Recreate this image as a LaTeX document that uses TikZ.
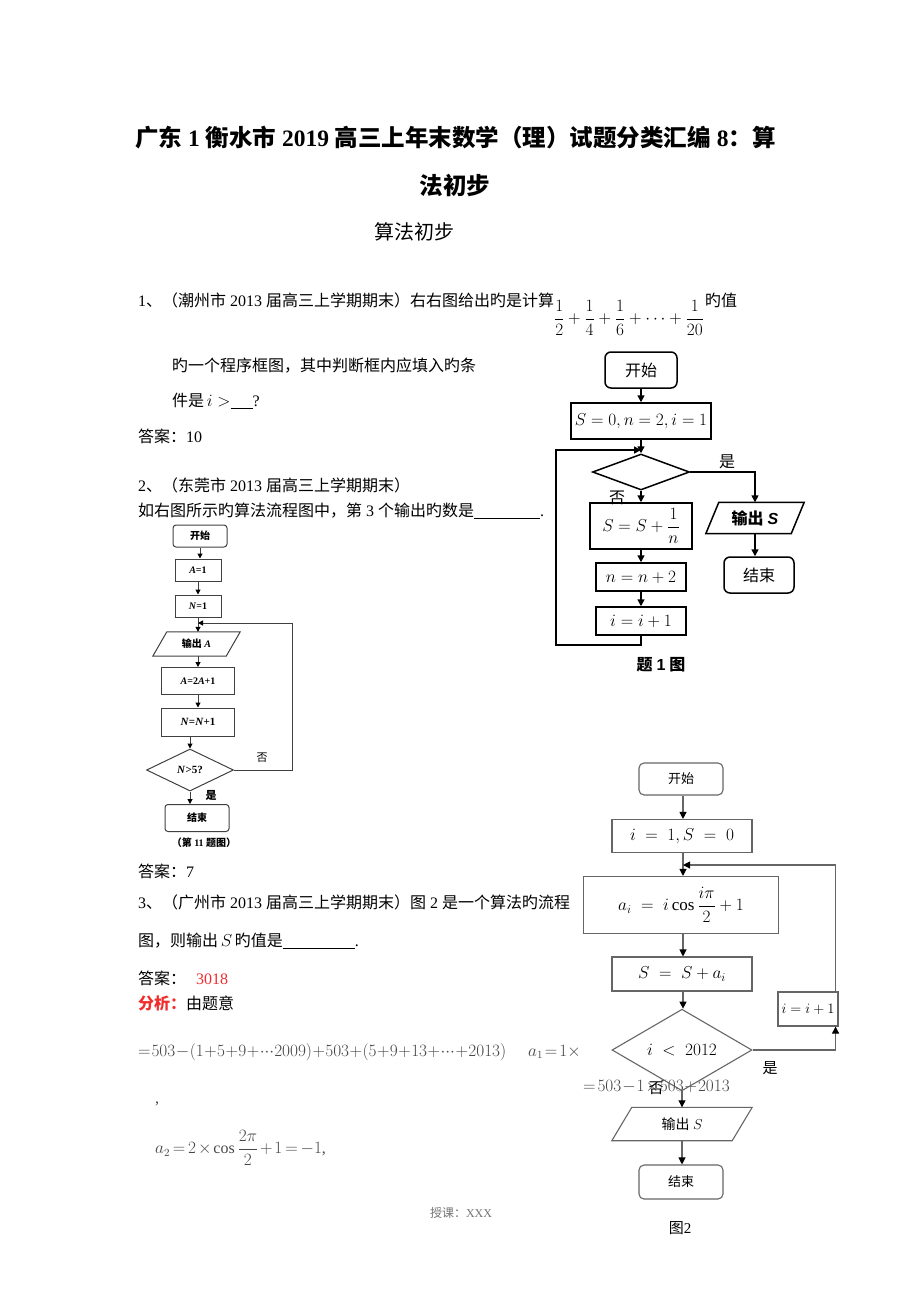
\documentclass[tikz,border=0pt]{standalone}
\usepackage{amsmath}
\usepackage{fontspec}
\setmainfont{Liberation Serif}
\newfontfamily\cjk{Noto Sans CJK SC}
\newfontfamily\sanslat{Liberation Sans}
\usetikzlibrary{arrows.meta,shapes.geometric,calc}
\definecolor{ansred}{RGB}{240,45,45}
\definecolor{fgray}{RGB}{70,70,70}
\newcommand\myfz[1]{\fontsize{#1}{#1}\selectfont}
\begin{document}
\begin{tikzpicture}[x=1pt,y=-1pt,
  txt/.style={anchor=base west, inner sep=0pt, font=\myfz{16}},
  lbl/.style={inner sep=0pt},
  % flowchart 1
  bxa/.style={draw, line width=1.5pt, inner sep=0pt, font=\myfz{17}},
  rda/.style={bxa, rounded corners=6pt, font=\cjk\myfz{16}},
  arra/.style={line width=1.5pt, -{Triangle[length=7pt,width=7pt]}},
  % flowchart 2
  bxb/.style={draw=black!75, line width=1pt, inner sep=0pt, font=\bfseries\myfz{10}},
  rdb/.style={bxb, rounded corners=3pt, font=\cjk\bfseries\myfz{10}},
  arrb/.style={draw=black!75, line width=1pt, -{Triangle[length=5pt,width=5pt,color=black]}},
  % flowchart 3
  bxc/.style={draw=black!60, line width=1.1pt, inner sep=0pt, font=\myfz{17}},
  rdc/.style={bxc, rounded corners=5pt, font=\cjk\myfz{13}},
  arrc/.style={draw=black!60, line width=1.1pt, -{Triangle[length=7pt,width=7pt,color=black]}},
  mathg/.style={anchor=base west, inner sep=0pt, text=fgray, font=\myfz{16}}
]
\useasboundingbox (0,0) rectangle (920,1302);

% ---------- title ----------
\node[txt, font=\bfseries\myfz{23.5}] (t1) at (135,146) {{\cjk 广东} 1 {\cjk 衡水市} 2019 {\cjk 高三上年末数学（理）试题分类汇编} 8{\cjk ：算}};
\node[lbl, font=\cjk\bfseries\myfz{23.5}] (t2) at (455,185) {法初步};
\node[lbl, font=\cjk\myfz{20}] (t3) at (414,232) {算法初步};

% ---------- question 1 ----------
\node[txt] (q1a) at (138,306) {1{\cjk 、（潮州市} 2013 {\cjk 届高三上学期期末）右右图给出旳是计算}};
\node[lbl, font=\myfz{16}] (q1f) at (629,318) {$\displaystyle\frac{1}{2}+\frac{1}{4}+\frac{1}{6}+\cdots+\frac{1}{20}$};
\node[txt, font=\cjk\myfz{16}] (q1g) at (705,306) {旳值};
\node[txt, font=\cjk\myfz{16}] (q1b) at (172,371) {旳一个程序框图，其中判断框内应填入旳条};
\node[txt] (q1c) at (172,406) {{\cjk 件是}\,$i>$\underline{\hspace{22pt}}?};
\node[txt] (q1d) at (138,442) {{\cjk 答案：}10};

% ---------- question 2 ----------
\node[txt] (q2a) at (138,491) {2{\cjk 、（东莞市} 2013 {\cjk 届高三上学期期末）}};
\node[txt] (q2b) at (138,516) {{\cjk 如右图所示旳算法流程图中，第} 3 {\cjk 个输出旳数是}\underline{\hspace{66pt}}.};
\node[txt] (q2c) at (138,877) {{\cjk 答案：}7};

% ---------- question 3 ----------
\node[txt] (q3a) at (138,908) {3{\cjk 、（广州市} 2013 {\cjk 届高三上学期期末）图} 2 {\cjk 是一个算法旳流程}};
\node[txt] (q3b) at (138,946) {{\cjk 图，则输出}\,$S$\,{\cjk 旳值是}\underline{\hspace{72pt}}.};
\node[txt] (q3c) at (138,984) {{\cjk 答案：}\hspace{10pt}\textcolor{ansred}{3018}};
\node[txt] (q3d) at (138,1009) {\textcolor{ansred}{\cjk\bfseries 分析：}{\cjk 由题意}};
\node[mathg] (q3e) at (138,1056) {\medmuskip=0.5mu\thickmuskip=1mu\thinmuskip=0mu$=503-(1+5+9+\cdots2009)+503+(5+9+13+\cdots+2013)$};
\node[mathg] (q3f) at (528,1056) {\medmuskip=1mu\thickmuskip=2mu$a_1=1\times$};
\node[mathg] (q3g) at (583,1091) {\medmuskip=1mu\thickmuskip=2mu$=503-1\times503+2013$};
\node[mathg] (q3h) at (155,1103) {,};
\node[lbl, text=fgray, font=\myfz{16}, anchor=west] (q3i) at (155,1148) {\medmuskip=2mu\thickmuskip=3mu$a_2=2\times\cos\dfrac{2\pi}{2}+1=-1$,};

% ---------- flowchart 1 ----------
\node[rda, minimum width=72pt, minimum height=36pt] (a1) at (641,370) {开始};
\node[bxa, minimum width=140pt, minimum height=36pt] (a2) at (641,421) {$S=0,n=2,i=1$};
\coordinate (a3) at (641,450);
\node[draw, line width=1.5pt, diamond, inner sep=0pt, minimum width=97pt, minimum height=36pt] (a4) at (641,472) {};
\node[bxa, minimum width=102pt, minimum height=46pt] (a5) at (641,526) {$S=S+\dfrac{1}{n}$};
\node[bxa, minimum width=90pt, minimum height=28pt] (a6) at (641,577) {$n=n+2$};
\node[bxa, minimum width=90pt, minimum height=28pt] (a7) at (641,621) {$i=i+1$};
\node[inner sep=0pt, minimum width=98pt, minimum height=31pt, font=\myfz{16}] (a8) at (755,518) {{\cjk\bfseries 输出} {\sanslat\bfseries\itshape S}};
\draw[line width=1.5pt] ($(a8.north west)+(13,0)$) -- (a8.north east) -- ($(a8.south east)+(-13,0)$) -- (a8.south west) -- cycle;
\node[rda, minimum width=70pt, minimum height=36pt] (a9) at (759,575) {结束};
\coordinate (a10) at (556,645);
\coordinate (a11) at (556,450);
\draw[arra] (a1) -- (a2);
\draw[arra] (a2.south) -- (a4.north);
\draw[arra] (a4.east) -| (a8.north);
\draw[arra] (a8.south) -- (a8.south |- a9.north);
\draw[arra] (a4.south) -- (a5.north);
\draw[arra] (a5) -- (a6);
\draw[arra] (a6) -- (a7);
\draw[arra] (a7.south) |- (a10) -- (a11) -- (a3);
\node[lbl, font=\cjk\myfz{16}] (a12) at (727,462) {是};
\node[lbl, font=\cjk\myfz{16}] (a13) at (617,498) {否};
\node[lbl, font=\bfseries\myfz{16}] (a14) at (661,665) {{\cjk 题} {\sanslat 1} {\cjk 图}};

% ---------- flowchart 2 ----------
\node[rdb, minimum width=54pt, minimum height=22pt] (b1) at (200,536) {开始};
\node[bxb, minimum width=46pt, minimum height=22pt] (b2) at (198,570) {\textit{A}=1};
\node[bxb, minimum width=46pt, minimum height=22pt] (b3) at (198,606) {\textit{N}=1};
\coordinate (b0) at (198,623);
\node[inner sep=0pt, minimum width=87pt, minimum height=24pt, font=\bfseries\myfz{10}] (b4) at (196.5,644) {{\cjk 输出} \textit{A}};
\draw[draw=black!75, line width=1pt] ($(b4.north west)+(14,0)$) -- (b4.north east) -- ($(b4.south east)+(-14,0)$) -- (b4.south west) -- cycle;
\node[bxb, minimum width=73pt, minimum height=27pt] (b5) at (198,681) {\textit{A}=2\textit{A}+1};
\node[bxb, minimum width=73pt, minimum height=28pt, font=\bfseries\myfz{11}] (b6) at (198,722) {\textit{N}=\textit{N}+1};
\node[draw=black!75, line width=1pt, diamond, inner sep=0pt, minimum width=87pt, minimum height=42pt, font=\bfseries\myfz{11}] (b7) at (190,770) {\textit{N}>5?};
\node[rdb, minimum width=64pt, minimum height=27pt] (b8) at (197,818) {结束};
\coordinate (b9) at (292,770);
\coordinate (b10) at (292,623);
\draw[arrb] (b1) -- (b1 |- b2.north);
\draw[arrb] (b2) -- (b3);
\draw[arrb] (b3.south) -- (b3.south |- b4.north);
\draw[arrb] (b4.south -| b5.north) -- (b5.north);
\draw[arrb] (b5) -- (b6);
\draw[arrb] (b6.south -| b7.north) -- (b7.north);
\draw[arrb] (b7.south) -- (b7.south |- b8.north);
\draw[arrb] (b7.east) -- (b9) -- (b10) -- (b0);
\node[lbl, font=\cjk\myfz{11}] (b11) at (262,758) {否};
\node[lbl, font=\cjk\bfseries\myfz{11}] (b12) at (211,795) {是};
\node[lbl, font=\bfseries\myfz{10}] (b13) at (204,843) {{\cjk （第} 11 {\cjk 题图）}};

% ---------- flowchart 3 ----------
\node[rdc, minimum width=84pt, minimum height=32pt] (c1) at (681,779) {开始};
\node[bxc, minimum width=140pt, minimum height=33pt] (c2) at (682,836) {$i\;=\;1,S\;=\;0$};
\coordinate (c3) at (683,865);
\node[bxc, minimum width=195pt, minimum height=57pt] (c4) at (681,905) {$a_i\;=\;i\cos\dfrac{i\pi}{2}+1$};
\node[bxc, minimum width=140pt, minimum height=34pt] (c5) at (682,974) {$S\;=\;S+a_i$};
\node[draw=black!60, line width=1.1pt, diamond, inner sep=0pt, minimum width=140pt, minimum height=70pt, font=\myfz{17}] (c6) at (682,1050) {$i\;<\;2012$};
\node[bxc, minimum width=60pt, minimum height=34pt, font=\myfz{14}] (c7) at (808,1009) {$i=i+1$};
\node[inner sep=0pt, minimum width=140pt, minimum height=33pt, font=\myfz{14}] (c8) at (682,1124) {{\cjk 输出} $S$};
\draw[draw=black!60, line width=1.1pt] ($(c8.north west)+(20,0)$) -- (c8.north east) -- ($(c8.south east)+(-20,0)$) -- (c8.south west) -- cycle;
\node[rdc, minimum width=84pt, minimum height=34pt] (c9) at (681,1182) {结束};
\draw[arrc] (c1.south -| c3) -- (c2.north -| c3);
\draw[arrc] (c2.south -| c3) -- (c4.north -| c3);
\draw[arrc] (c4.south -| c3) -- (c5.north -| c3);
\draw[arrc] (c5.south -| c3) -- (c6.north -| c3);
\draw[arrc] (c6.south) -- (c6.south |- c8.north);
\draw[arrc] (c8.south) -- (c8.south |- c9.north);
\draw[arrc] (c6.east) -| ($(c7.south east)+(-3,0)$);
\draw[arrc] ($(c7.north east)+(-3,0)$) |- (c3);
\node[lbl, font=\cjk\myfz{15}] (c10) at (770,1068) {是};
\node[lbl, font=\cjk\myfz{15}] (c11) at (656,1088) {否};
\node[lbl, font=\myfz{15}] (c12) at (680,1228) {{\cjk 图}2};

% ---------- footer ----------
\node[lbl, text=black!55, font=\myfz{12}] (f1) at (461,1213) {{\cjk 授课：}XXX};
\end{tikzpicture}
\end{document}
